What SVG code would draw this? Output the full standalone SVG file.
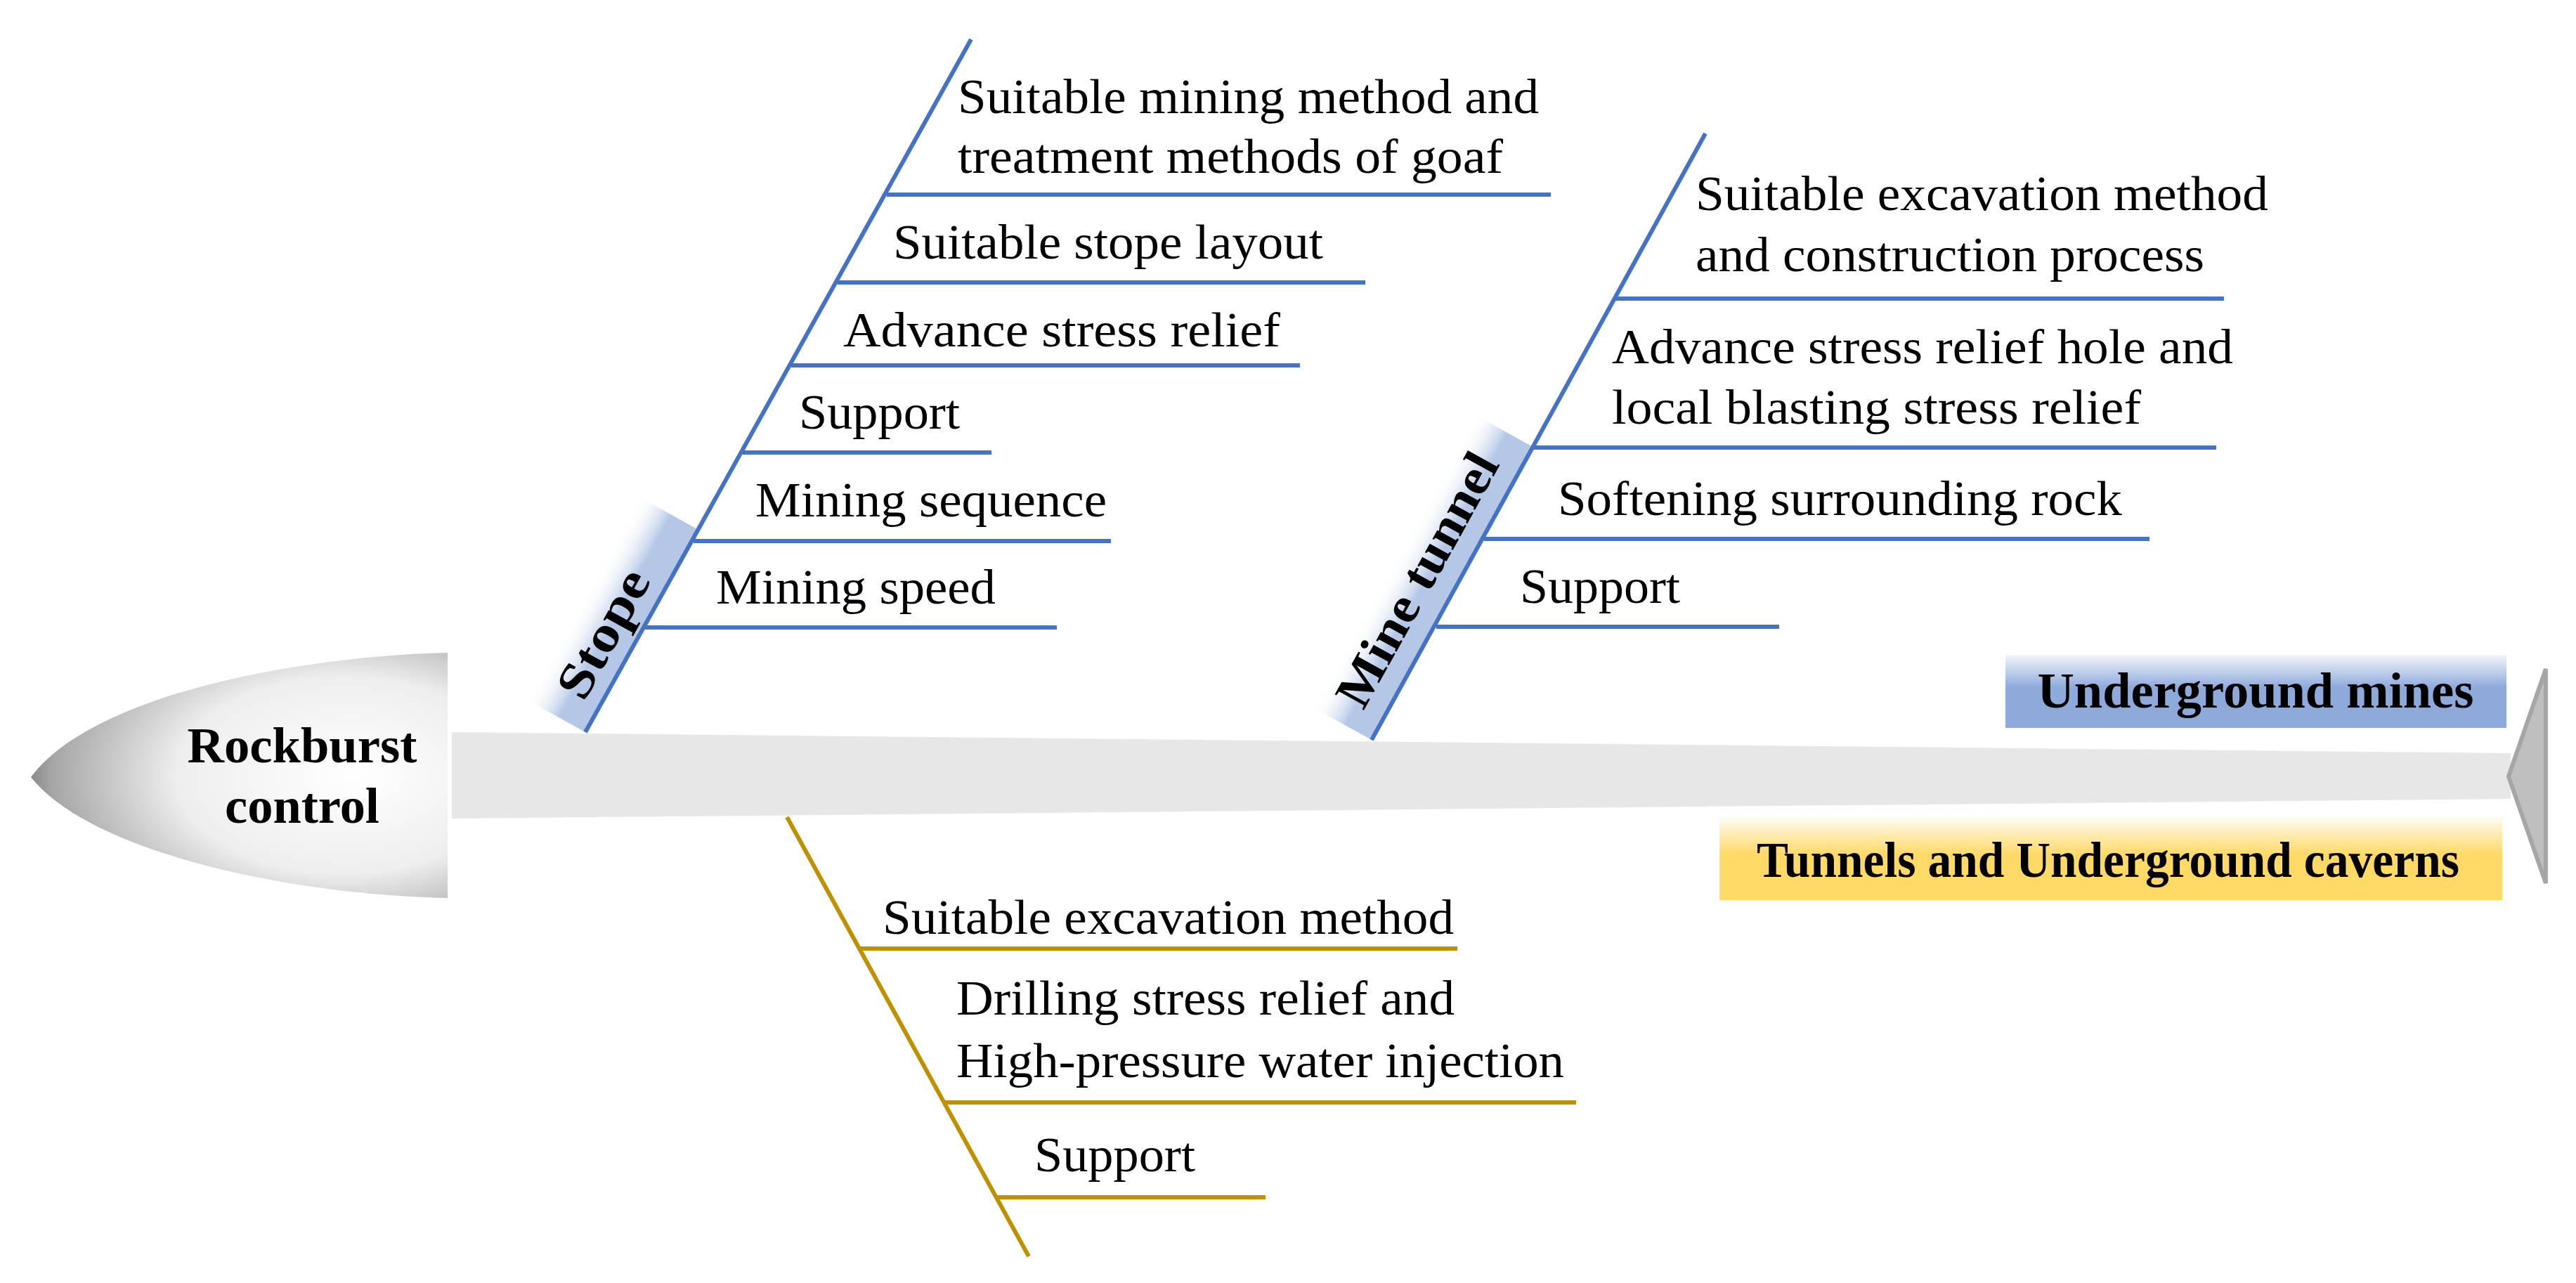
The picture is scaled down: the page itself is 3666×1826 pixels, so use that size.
<svg xmlns="http://www.w3.org/2000/svg" width="3666" height="1826" viewBox="0 0 3666 1826">
<defs>
<style>
text{font-family:"Liberation Serif","Times New Roman",serif}
.t{font-size:70px;fill:#000}
.b{font-size:72px;font-weight:bold;fill:#000}
.bl{stroke:#4472C4;stroke-width:6;fill:none}
.gd{stroke:#BF9000;stroke-width:6;fill:none}
</style>
<radialGradient id="head" cx="0.72" cy="0.5" r="0.8" fx="0.78" fy="0.5">
<stop offset="0" stop-color="#ffffff"/><stop offset="0.5" stop-color="#eeeeee"/><stop offset="0.85" stop-color="#a6a6a6"/><stop offset="1" stop-color="#5a5a5a"/>
</radialGradient>
<linearGradient id="band" x1="0" y1="0" x2="0" y2="1">
<stop offset="0" stop-color="#ffffff" stop-opacity="0"/><stop offset="0.55" stop-color="#B4C7E7"/><stop offset="1" stop-color="#B4C7E7"/>
</linearGradient>
<linearGradient id="blueBox" x1="0" y1="0" x2="0" y2="1">
<stop offset="0" stop-color="#F2F5FB"/><stop offset="0.45" stop-color="#8EAADB"/><stop offset="1" stop-color="#8EAADB"/>
</linearGradient>
<linearGradient id="yelBox" x1="0" y1="0" x2="0" y2="1">
<stop offset="0" stop-color="#FFFBEF"/><stop offset="0.45" stop-color="#FFD966"/><stop offset="1" stop-color="#FFD966"/>
</linearGradient>
</defs>
<rect width="3666" height="1826" fill="#ffffff"/>
<g id="spine">
<polygon points="643,1042 3573,1072 3573,1137 643,1165" fill="#E7E7E7"/>
<polygon points="3623,952 3570,1105 3623,1257" fill="#BFBFBF" stroke="#A6A6A6" stroke-width="6"/>
</g>
<g id="head-node">
<path d="M637,929 C420,934 130,990 44,1106 C130,1215 420,1274 637,1278 Z" fill="url(#head)"/>
<text class="b" x="430" y="1085" text-anchor="middle" textLength="327" lengthAdjust="spacingAndGlyphs">Rockburst</text>
<text class="b" x="430" y="1171" text-anchor="middle" textLength="220" lengthAdjust="spacingAndGlyphs">control</text>
</g>
<g id="stope-label" transform="translate(833,1042) rotate(-61)">
<rect x="0" y="-95" width="330" height="95" fill="url(#band)"/>
<text class="b" x="135" y="-22" text-anchor="middle" textLength="199" lengthAdjust="spacingAndGlyphs">Stope</text>
</g>
<g id="tunnel-label" transform="translate(1952,1053) rotate(-61)">
<rect x="0" y="-95" width="476" height="95" fill="url(#band)"/>
<text class="b" x="231" y="-30" text-anchor="middle" textLength="402" lengthAdjust="spacingAndGlyphs">Mine tunnel</text>
</g>
<g id="connectors">
<line class="bl" x1="833" y1="1042" x2="1382" y2="56"/>
<line class="bl" x1="1262" y1="277" x2="2207" y2="277"/>
<line class="bl" x1="1192" y1="402" x2="1943" y2="402"/>
<line class="bl" x1="1126" y1="520" x2="1850" y2="520"/>
<line class="bl" x1="1057" y1="644" x2="1411" y2="644"/>
<line class="bl" x1="987" y1="770" x2="1581" y2="770"/>
<line class="bl" x1="918" y1="893" x2="1504" y2="893"/>
<line class="bl" x1="1952" y1="1053" x2="2427" y2="190"/>
<line class="bl" x1="2297" y1="425" x2="3165" y2="425"/>
<line class="bl" x1="2181" y1="637" x2="3154" y2="637"/>
<line class="bl" x1="2112" y1="767" x2="3059" y2="767"/>
<line class="bl" x1="2044" y1="892" x2="2532" y2="892"/>
<line class="gd" x1="1120" y1="1163" x2="1464" y2="1788"/>
<line class="gd" x1="1223" y1="1350" x2="2074" y2="1350"/>
<line class="gd" x1="1344" y1="1569" x2="2243" y2="1569"/>
<line class="gd" x1="1417" y1="1704" x2="1801" y2="1704"/>
</g>
<g id="stope-items">
<text class="t" x="1363" y="161" textLength="827" lengthAdjust="spacingAndGlyphs">Suitable mining method and</text>
<text class="t" x="1363" y="246" textLength="776" lengthAdjust="spacingAndGlyphs">treatment methods of goaf</text>
<text class="t" x="1271" y="368" textLength="612" lengthAdjust="spacingAndGlyphs">Suitable stope layout</text>
<text class="t" x="1200" y="493" textLength="622" lengthAdjust="spacingAndGlyphs">Advance stress relief</text>
<text class="t" x="1137" y="610" textLength="229" lengthAdjust="spacingAndGlyphs">Support</text>
<text class="t" x="1075" y="735" textLength="500" lengthAdjust="spacingAndGlyphs">Mining sequence</text>
<text class="t" x="1019" y="859" textLength="398" lengthAdjust="spacingAndGlyphs">Mining speed</text>
</g>
<g id="tunnel-items">
<text class="t" x="2413" y="299" textLength="815" lengthAdjust="spacingAndGlyphs">Suitable excavation method</text>
<text class="t" x="2413" y="386" textLength="724" lengthAdjust="spacingAndGlyphs">and construction process</text>
<text class="t" x="2294" y="517" textLength="884" lengthAdjust="spacingAndGlyphs">Advance stress relief hole and</text>
<text class="t" x="2294" y="603" textLength="753" lengthAdjust="spacingAndGlyphs">local blasting stress relief</text>
<text class="t" x="2217" y="733" textLength="803" lengthAdjust="spacingAndGlyphs">Softening surrounding rock</text>
<text class="t" x="2163" y="858" textLength="228" lengthAdjust="spacingAndGlyphs">Support</text>
</g>
<g id="caverns-items">
<text class="t" x="1256" y="1329" textLength="813" lengthAdjust="spacingAndGlyphs">Suitable excavation method</text>
<text class="t" x="1361" y="1444" textLength="709" lengthAdjust="spacingAndGlyphs">Drilling stress relief and</text>
<text class="t" x="1361" y="1533" textLength="865" lengthAdjust="spacingAndGlyphs">High-pressure water injection</text>
<text class="t" x="1472" y="1667" textLength="229" lengthAdjust="spacingAndGlyphs">Support</text>
</g>
<g id="mines-box">
<rect x="2854" y="932" width="713" height="104" fill="url(#blueBox)"/>
<text class="b" x="3210" y="1007" text-anchor="middle" textLength="621" lengthAdjust="spacingAndGlyphs">Underground mines</text>
</g>
<g id="caverns-box">
<rect x="2447" y="1164" width="1114" height="117" fill="url(#yelBox)"/>
<text class="b" x="3000" y="1248" text-anchor="middle" textLength="1000" lengthAdjust="spacingAndGlyphs">Tunnels and Underground caverns</text>
</g>
</svg>
